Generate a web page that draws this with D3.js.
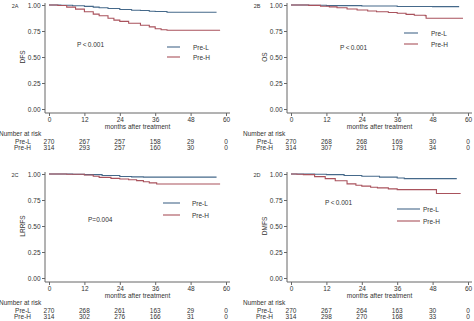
<!DOCTYPE html>
<html>
<head>
<meta charset="utf-8">
<script src="https://cdn.jsdelivr.net/npm/d3@7"></script>
<style>
  body { margin: 0; background: #fff; }
  svg { display: block; font-family: "Liberation Sans", Arial, sans-serif; }
  .axis path, .axis line { stroke: #666; }
  .axis text { fill: #333; font-size: 6.5px; }
  text { fill: #333; font-size: 6.5px; }
</style>
</head>
<body>
<div id="chart"></div>
<script>
// tick values
const monthTicks = [0, 12, 24, 36, 48, 60];
const survTicks = [0, 0.25, 0.5, 0.75, 1];
const groups = ["Pre-L", "Pre-H"];

// KM curves: [month, survival]
const dfsPreL = [[0,1],[4,0.997],[8,0.993],[12,0.987],[15,0.98],[17,0.974],[20,0.966],[24,0.957],[28,0.95],[31,0.947],[34,0.94],[36,0.937],[40,0.93],[56.8,0.93]];
const dfsPreH = [[0,1],[3,0.995],[6,0.98],[9,0.96],[12,0.935],[15,0.912],[17,0.897],[20,0.872],[22,0.855],[24,0.843],[27,0.825],[31,0.805],[34,0.79],[36,0.772],[38,0.762],[40,0.757],[58,0.757]];

const osPreL = [[0,1],[6,0.997],[12,0.994],[24,0.99],[36,0.986],[48,0.984],[57,0.984]];
const osPreH = [[0,1],[6,0.996],[10,0.988],[13,0.982],[15.6,0.974],[19,0.962],[22.4,0.952],[26,0.942],[29,0.935],[33,0.928],[36,0.92],[39,0.91],[41.8,0.902],[45.5,0.898],[45.8,0.873],[58.3,0.873]];

const lrrfsPreL = [[0,1],[8,0.997],[12,0.994],[18,0.985],[24,0.976],[28,0.972],[32,0.97],[56.8,0.97]];
const lrrfsPreH = [[0,1],[6,0.997],[12,0.99],[15,0.978],[17,0.968],[21,0.958],[24,0.952],[27,0.944],[29.7,0.936],[32,0.925],[34,0.915],[36.5,0.904],[58,0.904]];

const dmfsPreL = [[0,1],[8,0.997],[12,0.994],[18,0.986],[24,0.978],[30,0.97],[36,0.962],[38.4,0.956],[56.2,0.956]];
const dmfsPreH = [[0,1],[2,0.998],[4.2,0.994],[8,0.975],[11.6,0.956],[15,0.935],[19,0.905],[22,0.892],[24,0.883],[27,0.873],[29.3,0.867],[33,0.857],[36,0.85],[45,0.85],[49.2,0.85],[49.3,0.813],[57.5,0.813]];

// numbers at risk at each month tick
const dfsRisk = [[270, 267, 257, 158, 29, 0], [314, 293, 257, 160, 30, 0]];
const osRisk = [[270, 268, 268, 169, 30, 0], [314, 307, 291, 178, 34, 0]];
const lrrfsRisk = [[270, 268, 261, 163, 29, 0], [314, 302, 276, 166, 31, 0]];
const dmfsRisk = [[270, 267, 264, 163, 30, 0], [314, 298, 270, 168, 33, 0]];

const colors = ["#45698a", "#a9525c"];

const panels = [
    { tag: "2A", ylab: "DFS", curves: [dfsPreL, dfsPreH], risk: dfsRisk, p: "P\u2009<\u20090.001",
      ox: 0, oy: 0, px: 77, py: 44, lx: [167, 180], lt: 193, ly: [47, 57] },
    { tag: "2B", ylab: "OS", curves: [osPreL, osPreH], risk: osRisk, p: "P\u2009<\u20090.001",
      ox: 242, oy: 0, px: 98, py: 47, lx: [162, 176], lt: 189, ly: [33, 44] },
    { tag: "2C", ylab: "LRRFS", curves: [lrrfsPreL, lrrfsPreH], risk: lrrfsRisk, p: "P=0.004",
      ox: 0, oy: 169, px: 88, py: 50, lx: [163, 180], lt: 192, ly: [34, 46] },
    { tag: "2D", ylab: "DMFS", curves: [dmfsPreL, dmfsPreH], risk: dmfsRisk, p: "P\u2009<\u20090.001",
      ox: 242, oy: 169, px: 83, py: 33, lx: [155, 178], lt: 181, ly: [40, 52] }
];

const svg = d3.select("#chart").append("svg")
    .attr("width", 474)
    .attr("height", 321);

function drawPanel(cfg) {
    const g = svg.append("g").attr("transform", `translate(${cfg.ox},${cfg.oy})`);

    const x = d3.scaleLinear().domain([0, 60]).range([49, 226]);
    const y = d3.scaleLinear().domain([0, 1]).range([109, 5]);
    const axisX = 45, axisY = 113;

    // y axis
    g.append("g").attr("class", "axis")
        .attr("transform", `translate(${axisX},0)`)
        .call(d3.axisLeft(y).tickValues(survTicks).tickSize(3).tickPadding(1.5)
            .tickFormat(d3.format(".2f")))
        .call(s => s.select(".domain").attr("d", `M0,3V${axisY}`));

    // x axis
    g.append("g").attr("class", "axis")
        .attr("transform", `translate(0,${axisY})`)
        .call(d3.axisBottom(x).tickValues(monthTicks).tickSize(3).tickPadding(1.5))
        .call(s => s.select(".domain").attr("d", `M${axisX},0H230`));

    g.append("text")
        .attr("x", (x(0) + x(60)) / 2).attr("y", 126)
        .attr("text-anchor", "middle").attr("dominant-baseline", "central")
        .text("months after treatment");

    g.append("text")
        .attr("transform", `translate(22,${y(0.5)}) rotate(-90)`)
        .attr("text-anchor", "middle").attr("dominant-baseline", "central")
        .text(cfg.ylab);

    g.append("text")
        .attr("x", 15).attr("y", 6)
        .attr("text-anchor", "middle").attr("dominant-baseline", "central")
        .style("font-size", "5.5px")
        .text(cfg.tag);

    // curves
    let line = d3.line()
        .x(d => x(d[0]))
        .y(d => y(d[1]))
        .curve(d3.curveStepAfter);

    cfg.curves.forEach((c, i) => {
        g.append("path")
            .datum(c)
            .attr("fill", "none")
            .attr("stroke", colors[i])
            .attr("stroke-width", 1.1)
            .attr("d", line);
    });

    g.append("text")
        .attr("x", cfg.px).attr("y", cfg.py)
        .attr("dominant-baseline", "central")
        .text(cfg.p);

    // legend
    groups.forEach((name, i) => {
        g.append("line")
            .attr("x1", cfg.lx[0]).attr("x2", cfg.lx[1])
            .attr("y1", cfg.ly[i]).attr("y2", cfg.ly[i])
            .attr("stroke", colors[i]).attr("stroke-width", 1.1);
        g.append("text")
            .attr("x", cfg.lt).attr("y", cfg.ly[i])
            .attr("dominant-baseline", "central")
            .text(name);
    });

    // number at risk table
    g.append("text")
        .attr("x", cfg.ox === 0 ? -1 : 1).attr("y", 133)
        .attr("dominant-baseline", "central")
        .text("Number at risk");

    const rowY = [141, 147];
    groups.forEach((name, i) => {
        g.append("text")
            .attr("x", 31).attr("y", rowY[i])
            .attr("text-anchor", "end").attr("dominant-baseline", "central")
            .text(name);
        g.selectAll(null)
            .data(cfg.risk[i])
            .enter().append("text")
            .attr("x", (d, j) => x(monthTicks[j]))
            .attr("y", rowY[i])
            .attr("text-anchor", "middle").attr("dominant-baseline", "central")
            .text(d => d);
    });
}

panels.forEach(drawPanel);
</script>
</body>
</html>
